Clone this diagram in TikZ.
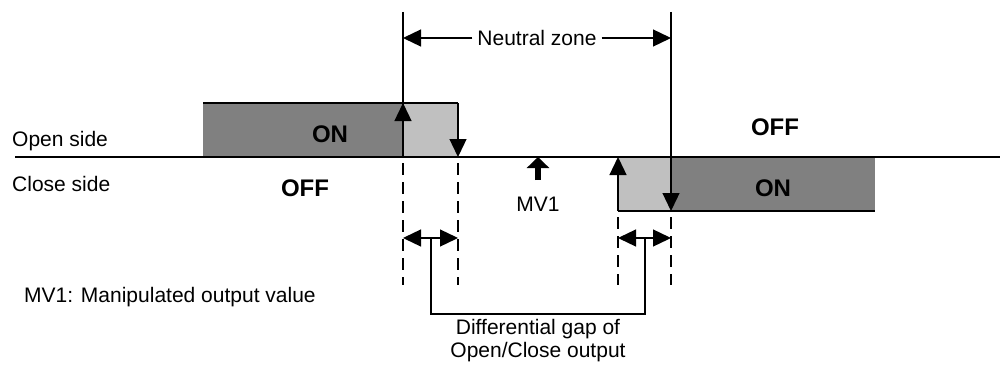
\documentclass[tikz,border=0pt]{standalone}
\usepackage{fontspec}
\setmainfont{Liberation Sans}
\usetikzlibrary{arrows.meta}
\definecolor{darkon}{HTML}{808080}
\definecolor{lighton}{HTML}{C0C0C0}
\tikzset{
  lbl/.style={inner sep=0pt, font=\fontsize{21}{23}\selectfont},
  state/.style={inner sep=0pt, font=\fontsize{24}{28}\selectfont\bfseries},
  ln/.style={line width=1.3pt},
  dsh/.style={line width=1.3pt, dash pattern=on 12pt off 7pt},
  tip/.style={-{Triangle[length=18pt,width=17pt]}},
  tips/.style={{Triangle[length=18pt,width=17pt]}-{Triangle[length=18pt,width=17pt]}},
}
\begin{document}
\begin{tikzpicture}[x=1pt,y=-1pt]
\useasboundingbox (0,0) rectangle (1000,369);
% boxes
\fill[darkon] (203,103) rectangle (403,157);
\fill[lighton] (403,103) rectangle (458,157);
\draw[ln] (203,103) -- (458,103);
\fill[lighton] (618,157) rectangle (671,211);
\fill[darkon] (671,157) rectangle (875,211);
\draw[ln] (618,211) -- (875,211);
% baseline
\coordinate (bl) at (15,157);
\coordinate (br) at (1000,157);
\draw[ln] (bl) -- (br);
% vertical lines
\coordinate (a1) at (403,12);
\coordinate (a2) at (403,157);
\coordinate (b1) at (671,12);
\coordinate (b2) at (671,211);
\draw[ln] (a1) -- (a2);
\draw[ln,tip] (b1) -- (b2);
\draw[ln,tip] (a2) -- (403,103);
\draw[ln,tip] (458,103) -- (458,157);
\draw[ln,tip] (618,211) -- (618,157);
% dashed
\draw[dsh] (403,163) -- (403,285);
\draw[dsh] (458,163) -- (458,285);
\draw[dsh] (618,217) -- (618,285);
\draw[dsh] (671,217) -- (671,285);
% neutral zone
\node[lbl] (nz) at (537,38) {Neutral zone};
\draw[ln,tip] (nz.west) ++(-5,0) -- (403,38);
\draw[ln,tip] (nz.east) ++(5,0) -- (671,38);
% MV1
\draw[line width=6pt,-{Triangle[length=11pt,width=22pt]}] (538,180) -- (538,157);
\node[lbl] (mv) at (538,204) {MV1};
% differential arrows
\draw[ln,tips] (403,238) -- (458,238);
\draw[ln,tips] (618,238) -- (671,238);
\draw[ln] (431,238) -- (431,314) -- (645,314) -- (645,238);
\node[lbl, align=center] (dg) at (538,341) {Differential gap of\\[0pt]Open/Close output};
% labels
\node[lbl, anchor=west] (os) at (12,141) {Open side};
\node[lbl, anchor=west] (cs) at (12,184) {Close side};
\node[lbl, anchor=west] (mvn) at (24,297) {MV1: Manipulated output value};
\node[state] (on1) at (330,134) {ON};
\node[state] (off1) at (305,188) {OFF};
\node[state] (off2) at (775,127) {OFF};
\node[state] (on2) at (773,188) {ON};
\end{tikzpicture}
\end{document}
